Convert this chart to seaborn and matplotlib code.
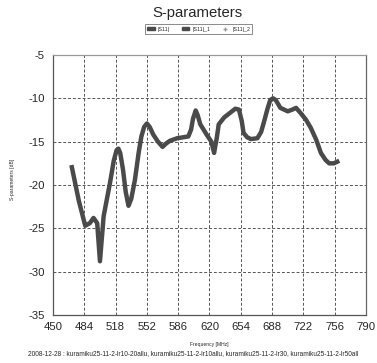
import matplotlib
matplotlib.use("Agg")
import matplotlib.pyplot as plt
from matplotlib.lines import Line2D
from matplotlib.patches import Patch
import seaborn as sns
import pandas as pd

# Data
freq = [470, 478, 485, 490, 494, 498, 501, 505, 512, 516, 519, 521, 523, 526, 529, 532,
        535, 539, 543, 546, 549, 552, 555, 559, 564, 569, 573, 577, 585, 597, 600, 602,
        605, 607, 610, 617, 622, 625, 628, 630, 636, 642, 648, 652, 655, 657, 661, 665,
        672, 676, 679, 683, 686, 689, 692, 697, 705, 710, 714, 719, 725, 730, 736, 741,
        746, 750, 755, 761]
s11 = [-17.7, -21.8, -24.7, -24.4, -23.8, -24.4, -28.8, -23.6, -19.7, -17.2, -16.0, -15.8,
       -16.3, -18.2, -20.8, -22.4, -21.6, -19.4, -16.3, -14.4, -13.3, -12.9, -13.3, -14.2,
       -15.0, -15.6, -15.2, -14.9, -14.6, -14.4, -13.6, -12.4, -11.4, -11.9, -13.0, -14.2,
       -15.0, -16.3, -14.5, -13.0, -12.2, -11.7, -11.2, -11.3, -12.6, -14.0, -14.5, -14.7,
       -14.6, -13.9, -12.8, -11.2, -10.2, -10.0, -10.2, -11.1, -11.5, -11.3, -11.1, -11.7,
       -12.5, -13.4, -14.8, -16.3, -17.1, -17.5, -17.5, -17.2]
series_names = ["|S11|", "|S11|_1", "|S11|_2"]
xticks = [450, 484, 518, 552, 586, 620, 654, 688, 722, 756, 790]
yticks = [-35, -30, -25, -20, -15, -10, -5]

df = pd.DataFrame({"Frequency": freq, "S11": s11})

sns.set_style("white")
plt.rcParams['font.family'] = ['Liberation Sans', 'DejaVu Sans']

fig = plt.figure(figsize=(3.77, 3.63), dpi=100)
ax = fig.add_axes([0.1406, 0.1322, 0.8302, 0.7163])

sns.lineplot(data=df, x="Frequency", y="S11", ax=ax, color="#4a4a4a",
             linewidth=3.2, solid_capstyle="butt", solid_joinstyle="round", legend=False)

ax.set_xlim(450, 790)
ax.set_ylim(-35, -5)
ax.set_xticks(xticks)
ax.set_yticks(yticks)
ax.set_xticklabels([str(t) for t in xticks], fontsize=8.2)
ax.set_yticklabels([str(t) for t in yticks], fontsize=8.2)
ax.tick_params(axis="x", length=0, pad=5)
ax.tick_params(axis="y", length=0, pad=6)
ax.grid(True, linestyle=(0, (3, 2)), color="#555555", linewidth=0.7)

for side in ["left", "bottom"]:
    ax.spines[side].set_color("#555555")
    ax.spines[side].set_linewidth(0.9)
ax.spines["top"].set_color("#999999")
ax.spines["top"].set_linewidth(0.9)
ax.spines["right"].set_color("#666666")
ax.spines["right"].set_linewidth(0.9)

ax.set_xlabel("Frequency [MHz]", fontsize=3.6, va="center")
ax.xaxis.set_label_coords(0.5, -0.115)
ax.set_ylabel("S-parameters [dB]", fontsize=3.6, va="center")
ax.yaxis.set_label_coords(-0.128, 0.52)

fig.text(0.524, 0.963, "S-parameters", ha="center", va="center", fontsize=10.7)

handles = [Patch(facecolor="#4a4a4a", edgecolor="#4a4a4a"),
           Patch(facecolor="#4a4a4a", edgecolor="#4a4a4a"),
           Line2D([], [], marker="+", linestyle="none", color="#999999", markersize=3)]
leg = fig.legend(handles, series_names, loc="center", bbox_to_anchor=(0.527, 0.92),
                 ncol=3, fontsize=3.8, frameon=True, fancybox=False, handlelength=1.4,
                 handleheight=0.6, columnspacing=2.2, borderpad=0.4, handletextpad=0.6)
leg.get_frame().set_edgecolor("#555555")
leg.get_frame().set_linewidth(0.6)

fig.text(0.512, 0.025,
         "2008-12-28 : kuramiku25-11-2-lr10-20allu, kuramiku25-11-2-lr10allu, kuramiku25-11-2-lr30, kuramiku25-11-2-lr50all",
         ha="center", va="center", fontsize=4.7)

fig.savefig("out.png", dpi=100)
